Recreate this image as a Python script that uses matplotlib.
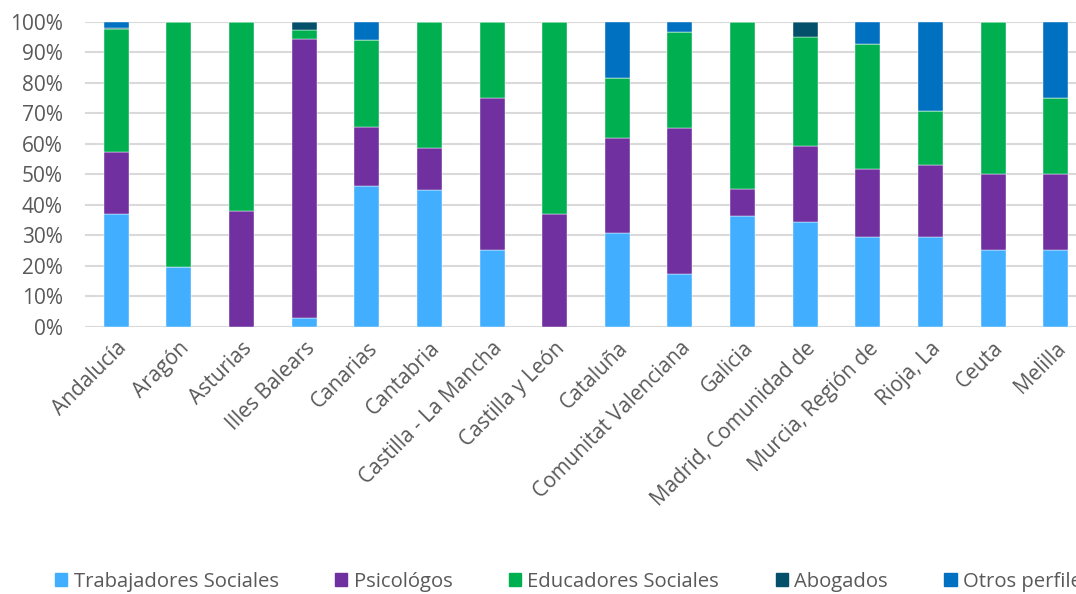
import matplotlib.pyplot as plt
import numpy as np
from matplotlib.patches import Patch
from matplotlib.ticker import PercentFormatter

plt.rcParams['font.family'] = ['Open Sans', 'DejaVu Sans']

regiones = ['Andalucía', 'Aragón', 'Asturias', 'Illes Balears', 'Canarias', 'Cantabria',
            'Castilla - La Mancha', 'Castilla y León', 'Cataluña', 'Comunitat Valenciana',
            'Galicia', 'Madrid, Comunidad de', 'Murcia, Región de', 'Rioja, La', 'Ceuta', 'Melilla']

trabajadores = [36.9, 19.5, 0.0, 2.8, 46.2, 44.7, 25.0, 0.0, 30.7, 17.3, 36.2, 34.3, 29.4, 29.3, 25.0, 25.0]
psicologos   = [20.5, 0.0, 38.0, 91.5, 19.4, 13.8, 50.0, 36.9, 31.3, 47.9, 9.0, 24.8, 22.3, 23.6, 25.0, 25.0]
educadores   = [40.1, 80.5, 62.0, 3.0, 28.4, 41.5, 25.0, 63.1, 19.4, 31.3, 54.8, 35.9, 40.9, 17.8, 50.0, 25.0]
abogados     = [0.5, 0.0, 0.0, 2.7, 0.0, 0.0, 0.0, 0.0, 0.0, 0.0, 0.0, 5.0, 0.0, 0.0, 0.0, 0.0]
otros        = [2.0, 0.0, 0.0, 0.0, 6.0, 0.0, 0.0, 0.0, 18.6, 3.5, 0.0, 0.0, 7.4, 29.3, 0.0, 25.0]

series = [
    ('Trabajadores Sociales', trabajadores, '#41AEFF'),
    ('Psicológos', psicologos, '#7030A0'),
    ('Educadores Sociales', educadores, '#00B050'),
    ('Abogados', abogados, '#044F6A'),
    ('Otros perfiles', otros, '#0070C0'),
]

fig = plt.figure(figsize=(10.76, 5.94), dpi=100)
ax = fig.add_axes([85 / 1076, 1 - 326.7 / 594, (1087 - 85) / 1076, 305 / 594])

x = np.arange(len(regiones))
total = np.sum([s[1] for s in series], axis=0)
bottom = np.zeros(len(regiones))
for name, vals, color in series:
    v = np.array(vals) / total
    ax.bar(x, v, 0.4, bottom=bottom, color=color, label=name, zorder=3,
           edgecolor='white', linewidth=0.3)
    bottom += v

ax.set_xlim(-0.5, len(regiones) - 0.5)
ax.set_ylim(0, 1)
ax.set_yticks(np.arange(0, 1.01, 0.1))
ax.yaxis.set_major_formatter(PercentFormatter(1.0, decimals=0))
ax.grid(axis='y', color='#D9D9D9', linewidth=1.5, zorder=0)
for s in ax.spines.values():
    s.set_visible(False)
ax.tick_params(length=0, labelsize=15, colors='#595959')
ax.tick_params(axis='y', pad=16)
ax.set_xticks(x)
ax.set_xticklabels(regiones, rotation=45, ha='right', rotation_mode='anchor')
ax.tick_params(axis='x', pad=8)

handles = [Patch(color=c, label=n) for n, _, c in series]
fig.legend(handles=handles, loc='center left', bbox_to_anchor=(37 / 1076, 1 - 582 / 594),
           ncol=5, frameon=False, fontsize=14.6, handlelength=0.6, handleheight=0.6,
           handletextpad=0.3, columnspacing=2.8, labelcolor='#595959')

fig.savefig('out.png', dpi=100)
